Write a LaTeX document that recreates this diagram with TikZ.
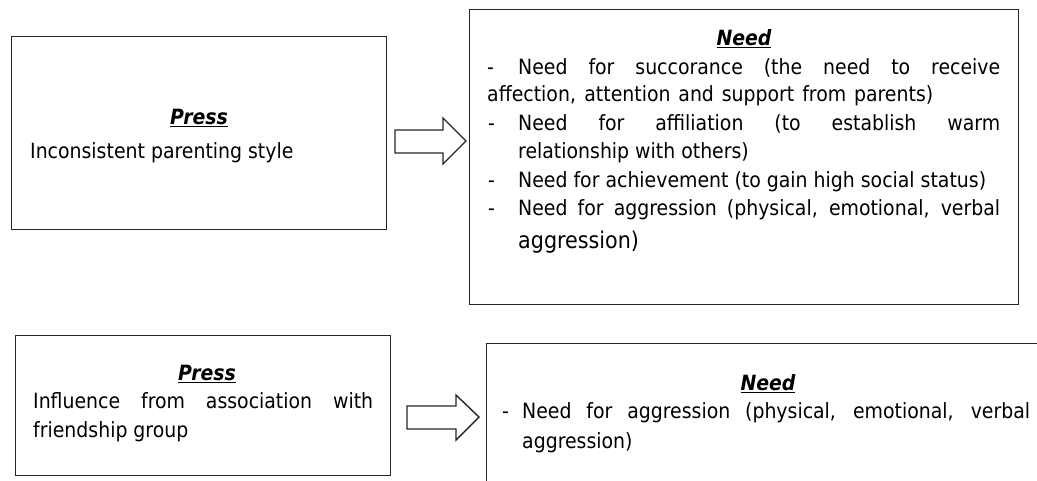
\documentclass[tikz,border=0pt]{standalone}
\usepackage{fontspec}
\setmainfont{DejaVu Sans Condensed}
\begin{document}
\begin{tikzpicture}[x=1pt,y=-1pt,
  box/.style={draw=black!85,line width=1.4pt,anchor=north west,inner sep=0pt},
  txt/.style={anchor=base west,inner sep=0pt,font=\fontsize{21}{25}\selectfont},
  ttl/.style={anchor=base,inner sep=0pt,font=\fontsize{21}{25}\selectfont\bfseries\itshape},
  blockarrow/.style={draw=black!85,line width=1.4pt,fill=white,line join=miter}]
\useasboundingbox (0,0) rectangle (1037,480);
\clip (0,0) rectangle (1037,480);
% boxes
\node[box,minimum width=375pt,minimum height=193pt] (p1) at (11,36) {};
\node[box,minimum width=549pt,minimum height=295pt] (n1) at (469,9) {};
\node[box,minimum width=375pt,minimum height=140pt] (p2) at (15,335) {};
\node[box,minimum width=600pt,minimum height=200pt] (n2) at (486,343) {};
% arrows
\draw[blockarrow] (395,130) -- (443,130) -- (443,118) -- (466,141) -- (443,164) -- (443,153) -- (395,153) -- cycle;
\draw[blockarrow] (407,406) -- (456,406) -- (456,395) -- (479,417) -- (456,440) -- (456,429) -- (407,429) -- cycle;
% press 1
\node[ttl] (p1t) at (199,124) {\underline{Press}};
\node[txt] (p1a) at (30,158) {Inconsistent parenting style};
% need 1
\node[ttl] (n1t) at (744,45) {\underline{Need}};
\node[txt] (n1a0) at (487,74) {-};
\node[txt] (n1a) at (518,74) {\makebox[482pt][s]{Need for succorance (the need to receive}};
\node[txt] (n1b) at (487,101) {\makebox[446pt][s]{affection, attention and support from parents)}};
\node[txt] (n1c) at (488,130) {-};
\node[txt] (n1d) at (518,130) {\makebox[482pt][s]{Need for affiliation (to establish warm}};
\node[txt] (n1e) at (518,158) {relationship with others)};
\node[txt] (n1f) at (488,187) {-};
\node[txt] (n1g) at (518,187) {Need for achievement (to gain high social status)};
\node[txt] (n1h) at (488,215) {-};
\node[txt] (n1i) at (518,215) {\makebox[482pt][s]{Need for aggression (physical, emotional, verbal}};
\node[txt,font=\fontsize{23}{27}\selectfont] (n1j) at (518,248) {aggression)};
% press 2
\node[ttl] (p2t) at (207,380) {\underline{Press}};
\node[txt] (p2a) at (33,408) {\makebox[340pt][s]{Influence from association with}};
\node[txt] (p2b) at (33,437) {friendship group};
% need 2
\node[ttl] (n2t) at (768,390) {\underline{Need}};
\node[txt] (n2a) at (502,418) {-};
\node[txt] (n2b) at (522,418) {\makebox[508pt][s]{Need for aggression (physical, emotional, verbal}};
\node[txt] (n2c) at (522,448) {aggression)};
\end{tikzpicture}
\end{document}
